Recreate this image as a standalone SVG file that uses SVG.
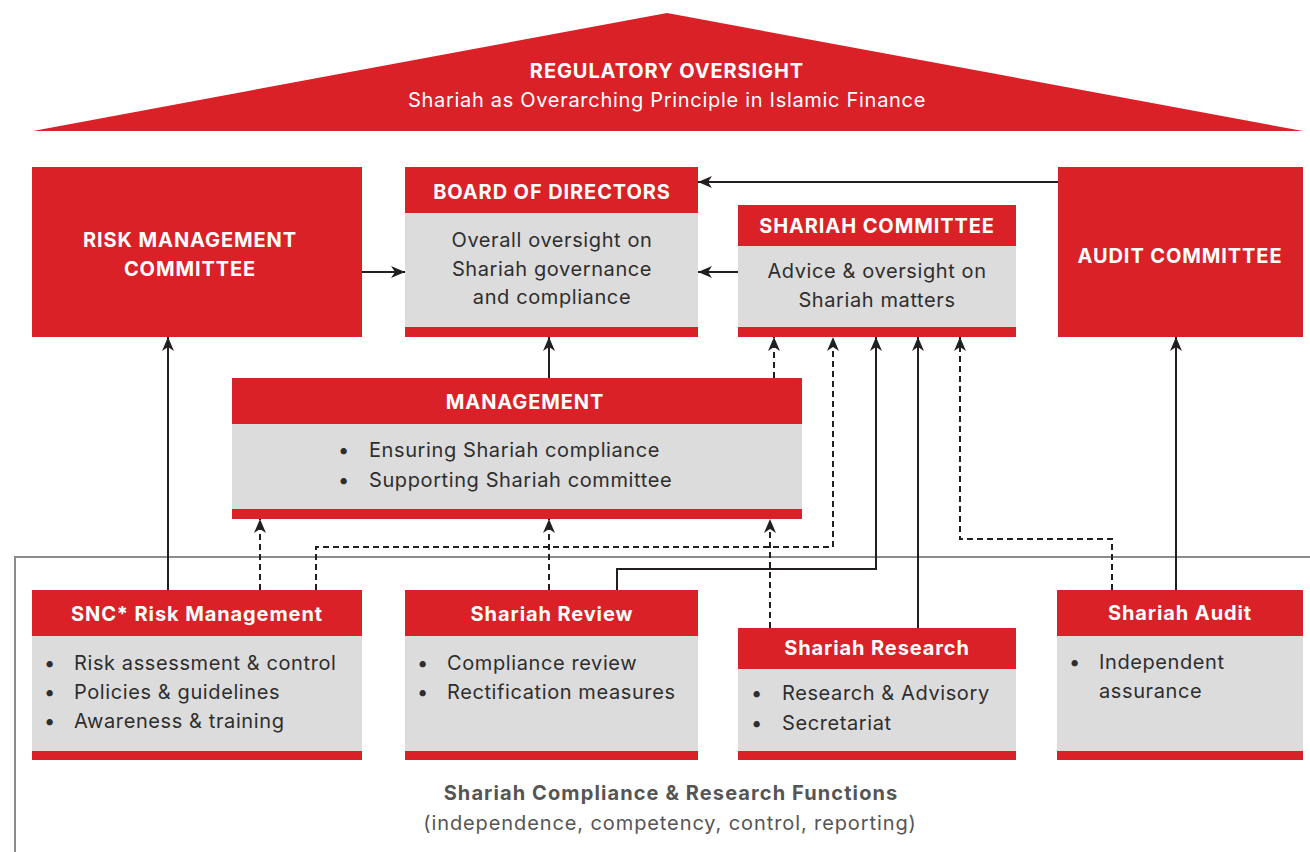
<svg xmlns="http://www.w3.org/2000/svg" width="1310" height="852" viewBox="0 0 1310 852">
<style>
.red{fill:#da2128}
.body{fill:#dcdcdc}
.hd{font-family:Inter,"Liberation Sans",sans-serif;font-weight:700;font-size:20px;letter-spacing:0.9px;fill:#fff;text-anchor:middle}
.sub{font-weight:400;letter-spacing:0.7px}
.tx{font-family:Inter,"Liberation Sans",sans-serif;font-size:20px;letter-spacing:0.6px;fill:#2e2e2e}
.mid{text-anchor:middle}
.ln{fill:none;stroke:#231f20;stroke-width:2}
.dash{stroke-dasharray:6 4}
.frame{fill:none;stroke:#8c8c8c;stroke-width:2}
.foot{font-family:Inter,"Liberation Sans",sans-serif;font-size:20px;fill:#555;text-anchor:middle}
</style>
<defs>
<marker id="ah" viewBox="0 0 14 12" markerWidth="14" markerHeight="12" refX="14" refY="6" orient="auto" markerUnits="userSpaceOnUse">
<path d="M0,0 L14,6 L0,12 L4,6 z" fill="#231f20"/>
</marker>
</defs>
<rect width="1310" height="852" fill="#fff"/>

<g id="regulatory">
<polygon class="red" points="667,13 1303,131 33,131"/>
<text class="hd" x="667" y="78">REGULATORY OVERSIGHT</text>
<text class="hd sub" x="667" y="107">Shariah as Overarching Principle in Islamic Finance</text>
</g>

<g id="frame">
<polyline class="frame" points="15,852 15,557 1310,557"/>
</g>

<g id="risk-committee">
<rect class="red" x="32" y="167" width="330" height="170"/>
<text class="hd" x="190" y="247">RISK MANAGEMENT</text>
<text class="hd" x="190" y="276">COMMITTEE</text>
</g>

<g id="board">
<rect class="body" x="405" y="167" width="293" height="170"/>
<rect class="red" x="405" y="167" width="293" height="46"/>
<rect class="red" x="405" y="327" width="293" height="10"/>
<text class="hd" x="552" y="199">BOARD OF DIRECTORS</text>
<text class="tx mid" x="552" y="247">Overall oversight on</text>
<text class="tx mid" x="552" y="276">Shariah governance</text>
<text class="tx mid" x="552" y="304">and compliance</text>
</g>

<g id="shariah-committee">
<rect class="body" x="738" y="205" width="278" height="132"/>
<rect class="red" x="738" y="205" width="278" height="41"/>
<rect class="red" x="738" y="327" width="278" height="10"/>
<text class="hd" x="877" y="233">SHARIAH COMMITTEE</text>
<text class="tx mid" x="877" y="278">Advice &amp; oversight on</text>
<text class="tx mid" x="877" y="307">Shariah matters</text>
</g>

<g id="audit-committee">
<rect class="red" x="1058" y="167" width="245" height="170"/>
<text class="hd" x="1180" y="263">AUDIT COMMITTEE</text>
</g>

<g id="management">
<rect class="body" x="232" y="378" width="570" height="141"/>
<rect class="red" x="232" y="378" width="570" height="46"/>
<rect class="red" x="232" y="509" width="570" height="10"/>
<text class="hd" x="525" y="409">MANAGEMENT</text>
<text class="tx" x="338" y="457">•</text>
<text class="tx" x="369" y="457">Ensuring Shariah compliance</text>
<text class="tx" x="338" y="487">•</text>
<text class="tx" x="369" y="487">Supporting Shariah committee</text>
</g>

<g id="snc-risk">
<rect class="body" x="32" y="590" width="330" height="170"/>
<rect class="red" x="32" y="590" width="330" height="46"/>
<rect class="red" x="32" y="751" width="330" height="9"/>
<text class="hd" x="197" y="621">SNC* Risk Management</text>
<text class="tx" x="44" y="670">•</text>
<text class="tx" x="74" y="670">Risk assessment &amp; control</text>
<text class="tx" x="44" y="699">•</text>
<text class="tx" x="74" y="699">Policies &amp; guidelines</text>
<text class="tx" x="44" y="728">•</text>
<text class="tx" x="74" y="728">Awareness &amp; training</text>
</g>

<g id="shariah-review">
<rect class="body" x="405" y="590" width="293" height="170"/>
<rect class="red" x="405" y="590" width="293" height="46"/>
<rect class="red" x="405" y="751" width="293" height="9"/>
<text class="hd" x="552" y="621">Shariah Review</text>
<text class="tx" x="417" y="670">•</text>
<text class="tx" x="447" y="670">Compliance review</text>
<text class="tx" x="417" y="699">•</text>
<text class="tx" x="447" y="699">Rectification measures</text>
</g>

<g id="shariah-research">
<rect class="body" x="738" y="628" width="278" height="132"/>
<rect class="red" x="738" y="628" width="278" height="41"/>
<rect class="red" x="738" y="751" width="278" height="9"/>
<text class="hd" x="877" y="655">Shariah Research</text>
<text class="tx" x="751" y="700">•</text>
<text class="tx" x="782" y="700">Research &amp; Advisory</text>
<text class="tx" x="751" y="730">•</text>
<text class="tx" x="782" y="730">Secretariat</text>
</g>

<g id="shariah-audit">
<rect class="body" x="1057" y="590" width="246" height="170"/>
<rect class="red" x="1057" y="590" width="246" height="46"/>
<rect class="red" x="1057" y="751" width="246" height="9"/>
<text class="hd" x="1180" y="620">Shariah Audit</text>
<text class="tx" x="1069" y="669">•</text>
<text class="tx" x="1099" y="669">Independent</text>
<text class="tx" x="1099" y="698">assurance</text>
</g>

<g id="footer">
<text class="foot" x="671" y="800" style="font-weight:700;letter-spacing:1.1px">Shariah Compliance &amp; Research Functions</text>
<text class="foot" x="670" y="830" style="letter-spacing:0.9px">(independence, competency, control, reporting)</text>
</g>

<g id="connectors">
<line class="ln" x1="1058" y1="182" x2="698" y2="182" marker-end="url(#ah)"/>
<line class="ln" x1="738" y1="272" x2="698" y2="272" marker-end="url(#ah)"/>
<line class="ln" x1="362" y1="272" x2="405" y2="272" marker-end="url(#ah)"/>
<line class="ln" x1="549" y1="378" x2="549" y2="337" marker-end="url(#ah)"/>
<line class="ln dash" x1="774" y1="378" x2="774" y2="337" marker-end="url(#ah)"/>
<polyline class="ln dash" points="316,590 316,547 833,547 833,337" marker-end="url(#ah)"/>
<line class="ln dash" x1="260" y1="590" x2="260" y2="519" marker-end="url(#ah)"/>
<line class="ln dash" x1="549" y1="590" x2="549" y2="519" marker-end="url(#ah)"/>
<line class="ln dash" x1="770" y1="628" x2="770" y2="519" marker-end="url(#ah)"/>
<polyline class="ln" points="617,590 617,569 876,569 876,337" marker-end="url(#ah)"/>
<line class="ln" x1="918" y1="628" x2="918" y2="337" marker-end="url(#ah)"/>
<polyline class="ln dash" points="1112,590 1112,539 960,539 960,337" marker-end="url(#ah)"/>
<line class="ln" x1="1176" y1="590" x2="1176" y2="337" marker-end="url(#ah)"/>
<line class="ln" x1="168" y1="590" x2="168" y2="337" marker-end="url(#ah)"/>
</g>
</svg>
